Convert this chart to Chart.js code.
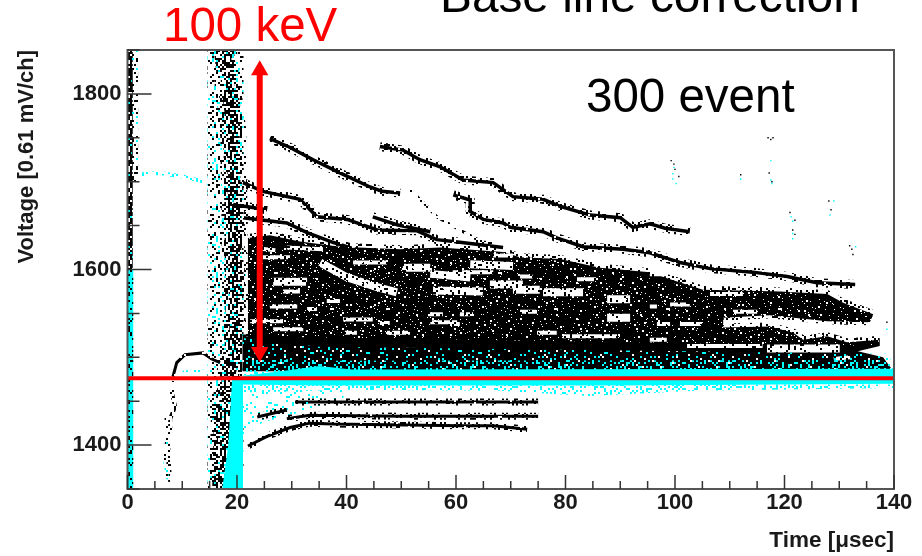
<!DOCTYPE html>
<html>
<head>
<meta charset="utf-8">
<style>
  html, body { margin: 0; padding: 0; background: #fff; }
  canvas { display: block; }
</style>
<script src="https://cdn.jsdelivr.net/npm/chart.js@4/dist/chart.umd.js"></script>
</head>
<body>
<canvas id="chart" width="922" height="556"></canvas>
<script>
var xTickLabels = [0, 20, 40, 60, 80, 100, 120, 140];
var yTickLabels = [1400, 1600, 1800];

// decay tracks, [time, voltage]
var trackA = [[26,1749],[29.7,1739],[33.9,1725],[38.8,1710],[44.3,1694],[46.5,1689],[49.8,1687]];
var trackB = [[46.1,1740],[50.3,1736],[53.4,1725],[57.1,1717],[61.3,1702],[66.8,1699],[70.4,1683],[75.9,1680],[79,1672],[84.5,1662],[90,1659],[92.3,1648],[95.4,1652],[98.2,1647],[102.7,1643]];
var trackC = [[51.6,1691],[54.7,1672],[56.5,1660],[60.7,1645],[64,1634],[68,1622]];
var trackD = [[59.5,1685],[62.6,1679],[62.6,1666],[65,1657],[68.6,1653],[69.9,1648],[75.9,1643],[78.4,1636],[83.2,1626],[90.5,1623],[95.4,1619],[97.8,1614],[100.9,1608],[106.4,1601],[114.2,1597],[120.5,1592],[125.9,1585],[132.9,1583]];
var trackE = [[21.1,1699],[24.7,1689],[31.5,1680],[34.6,1660],[40.1,1657],[45.6,1645],[52.9,1644],[56.5,1634],[60.7,1631],[68.6,1625]];
var trackF = [[44.8,1660],[49.2,1651],[55.3,1643]];
var trackG = [[19.3,1674],[25.5,1668]];
var trackH = [[21.1,1659],[29.1,1653],[32.8,1642],[37.5,1631],[43.7,1619],[49.8,1608],[55.8,1603]];
var upperTracks = [trackA, trackB, trackD, trackE, trackF, trackG, trackH];

// the tracks below the base line
var lowerTrack1 = [[30.6,1449],[50,1449],[75,1449]];
var lowerTrack2 = [[23.7,1432],[29.1,1440]];
var lowerTrack3 = [[29.1,1430],[33.3,1434],[50,1433],[75,1433]];
var lowerTrack4 = [[22,1399],[25.5,1410],[29.7,1420],[33.3,1425],[37.5,1424],[60.7,1422],[66.8,1422],[73,1418]];
var lowerTracks = [lowerTrack1, lowerTrack2, lowerTrack3, lowerTrack4];

// early pulses left of the big band
var bumpBlack = [[8.3,1478],[9,1494],[10.5,1503],[13.8,1505],[15.4,1498],[16.9,1494]];
var bumpCyan = [[10.1,1483],[11.8,1484],[13.8,1484],[15.1,1481]];
var upperCyan = [[1.9,1708],[5.9,1710],[10.1,1706],[14.7,1699]];
var fallBlack = [[8.3,1473],[8.1,1460],[8.7,1444],[7.8,1430],[7.8,1415],[7.4,1392],[7.8,1358]];
var fallMixed = [[7,1435],[7.2,1410],[6.8,1381],[7.4,1361]];

// outline of the dense black mass
var massOutline = [[22,1636],[26,1639],[31.5,1632],[38.8,1626],[49.8,1623],[57.1,1625],[68.6,1620],[71.7,1614],[79,1612],[86.3,1602],[95.4,1597],[99.1,1589],[105.1,1577],[119.2,1575],[127.8,1572],[130.7,1562],[136.2,1549],[135.6,1540],[127.8,1541],[117.3,1548],[108.8,1545],[108.8,1534],[117.3,1535],[121.6,1528],[123.4,1520],[127.8,1524],[131.4,1517],[137.4,1520],[137.4,1513],[133.4,1507],[138,1500],[139.3,1489],[140,1484],[21,1484],[21,1526],[22,1526]];
var massTopEdge = [[22,1636],[26,1639],[31.5,1632],[38.8,1626],[49.8,1623],[57.1,1625],[68.6,1620],[71.7,1614],[79,1612],[86.3,1602],[95.4,1597],[99.1,1589],[105.1,1577],[119.2,1575],[127.8,1572],[130.7,1562],[136.2,1549]];
var massLowerEdge = [[108.8,1534],[117.3,1535],[121.6,1528],[123.4,1520],[127.8,1524],[131.4,1517],[137.4,1520]];
var massNotchEdge = [[135.6,1540],[127.8,1541],[117.3,1548],[108.8,1545]];
var massFleckZone = [[22,1636],[38.8,1626],[68.6,1620],[86.3,1602],[105.1,1577],[127.8,1572],[136.2,1549],[137.4,1513],[21,1524]];
var baseFringe = [[21,1522],[35,1512],[139,1504],[140,1486],[21,1480]];
var baseFringeTight = [[21,1500],[35,1496],[139,1497],[140,1486],[21,1480]];

// empty stripes inside the mass
var gapsWide = [
  [[26.6,1586],[32.8,1586]],
  [[35.2,1608],[40.1,1591],[45.6,1580],[49.2,1574]],
  [[55.8,1576],[64.9,1575]],
  [[75.9,1574],[83.2,1574]],
  [[70.4,1577],[75.3,1577]],
  [[87.6,1566],[91.8,1566]],
  [[87.6,1545],[91.8,1545]],
  [[50.3,1602],[55.3,1602]],
  [[55.3,1595],[62.6,1591]],
  [[66.2,1583],[72.2,1583]],
  [[95.4,1597],[100.9,1597]],
  [[116.8,1510],[130.1,1510]],
  [[62.6,1606],[70.4,1604]]
];
var gapsThin = [
  [[26,1558],[31,1558]], [[28.4,1575],[31.5,1575]], [[22.4,1541],[28.4,1541]], [[26.6,1532],[32.1,1532]],
  [[36.4,1564],[38.8,1564]], [[32.8,1555],[34.6,1555]], [[39.4,1543],[44.8,1543]], [[46.1,1539],[47.9,1539]],
  [[39.7,1528],[41.9,1528]], [[47.4,1528],[51.6,1528]], [[55.3,1540],[60.2,1540]], [[54.9,1549],[57.6,1549]],
  [[41.2,1608],[47.4,1608]], [[24.7,1614],[29.7,1614]], [[60.7,1549],[63.1,1549]], [[71.7,1552],[74.8,1552]],
  [[58.9,1538],[60.7,1538]], [[74.8,1528],[78.4,1528]], [[79.5,1524],[89.4,1524]], [[95.4,1520],[98.5,1520]],
  [[96.7,1538],[99.1,1538]], [[95.4,1558],[96.7,1558]], [[82.1,1589],[85.8,1589]], [[106.4,1572],[112.4,1572]],
  [[110.6,1552],[115,1552]], [[100.9,1538],[104.6,1538]], [[99.1,1560],[102.7,1560]], [[102.2,1513],[116,1513]],
  [[129,1498],[132,1500]], [[29.1,1625],[35.7,1623]], [[66.8,1616],[70.4,1616]], [[59.4,1597],[66.8,1597]],
  [[71.7,1592],[74,1592]], [[24,1624],[27,1622]]
];

// cyan (no correction) base line band
var cyanBand = [[21,1479],[28,1484],[35,1490],[41,1486],[140,1487],[140,1470],[90,1468],[35,1468],[21,1469]];
var cyanSpray = [[21,1469],[140,1469],[140,1465],[104,1462],[84,1456],[68,1462],[40,1463],[21,1460]];
var cyanSpraySparse = [[21,1460],[40,1463],[39,1448],[31.5,1437],[24.7,1426],[21,1407]];
var cyanColumn = [[19.1,1475],[21.1,1475],[21.1,1350],[17.3,1350],[18.4,1400]];

// big vertical band around the trigger
var bandCentre = [[17.9,1850],[17.9,1350]];
var bandCore = [[17.6,1850],[18.4,1805],[19.3,1759],[19.5,1680],[19.6,1600],[19.8,1520],[18.4,1475],[17.6,1430],[17.3,1350]];
var stripUpper = [[0.5,1850],[0.5,1600]];
var stripLower = [[0.5,1600],[0.5,1350]];
var stripSpray = [[1.3,1850],[1.3,1700]];

// stray points in the upper right
var strayBlack = [[99.3,1724],[99.8,1720],[100,1714],[100.7,1706],[112,1708],[117,1750],[117.9,1750],[117.5,1748],[117.2,1710],[117.7,1700],[121,1665],[121.9,1656],[121.5,1645],[121.9,1640],[128.1,1678],[128.5,1668],[131.9,1627],[132.3,1623],[132.5,1617],[138.7,1540]];
var strayCyan = [[99.8,1716],[99.6,1709],[99.6,1703],[100.2,1698],[112,1703],[117.5,1724],[117.5,1702],[117.7,1698],[121.2,1660],[121.5,1655],[121.5,1641],[121.5,1635],[129,1678],[128.3,1662],[133,1626],[138.7,1532]];

// hand annotations
var baseLine = [[0,1476],[140,1476]];
var arrowShaft = [[24.15,1823],[24.15,1510]];
var arrowTop = [[24.15,1827]];
var arrowBottom = [[24.15,1506]];

var speckleTile = [
  "x..o...x.z..x...o..x...z.x..",
  ".x....o....x..o.x.....x....o",
  "...z.x..o.....x....o.x..x...",
  "o.x.....x..o.z...x.....o...x",
  "....x.o....x.....x.o..x..z..",
  ".z.....x.o...x.o.....x...x.o",
  "x..o.x.....z....x..o.....x..",
  "...x....x.o..x.....x.z.o....",
  ".o...z.x.....o.x.o.....x..x.",
  "x....x...o.x.....z..x.o.....",
  "..x.o....x....o.x.....x.o.z.",
  ".....x.z...o.x.....o.x....x.",
  "o.x.....x.....x.o.x.....o...",
  "..z.x.o...x.o.....z..x....x.",
  "x.....x.....x..o.x....o.x...",
  "..o.x...z.o....x...x.....o.x",
  ".x.....o.x...x.....o.z.x....",
  "...x.o.....x..z.x.....x..o.."
];
// second tile with another period, breaks up the lattice of the first one
var shiftTile = [
  "#..#.##...#..#.#..##..#",
  ".##...#.#...##...#...#.",
  "#...##...#.#...##..#..#",
  "..#...#.##...#...#.##..",
  ".#.##...#..##.#.....#.#",
  "#.....#...#....##.#....",
  "..##.#..#...#.#....#.##",
  "#...#..##.#.....#.#....",
  ".#.....#...##.#...##.#.",
  "...##.#..#....#.#....#.",
  "#.#...#.....##...#.#..#",
  ".#..#...##.#...#....##.",
  "..#..##....#..#.##.#..."
];

function speckle(colors, cell, offset) {
  var w = speckleTile[0].length, h = speckleTile.length;
  var sw = shiftTile[0].length, sh = shiftTile.length;
  var off = offset || 0;
  var tile = document.createElement("canvas");
  tile.width = w * sw * cell;
  tile.height = h * sh * cell;
  var c = tile.getContext("2d");
  for (var j = 0; j < h * sh; j++) {
    for (var i = 0; i < w * sw; i++) {
      var shifted = shiftTile[j % sh][i % sw] === "#";
      var ch = shifted ? speckleTile[(j + 5 + off) % h][(i + 11) % w] : speckleTile[(j + off) % h][(i + off) % w];
      if (colors[ch]) {
        c.fillStyle = colors[ch];
        c.fillRect(i * cell, j * cell, cell, cell);
      }
    }
  }
  return c.createPattern(tile, "repeat");
}

var BLACK = "#000000", CYAN = "#00ffff", WHITE = "#ffffff", RED = "#ff0000";
var sprayMixed = speckle({x: BLACK, o: CYAN}, 2);
var sprayDark = speckle({x: BLACK, z: CYAN}, 2, 9);
var sprayBlack = speckle({x: BLACK, o: BLACK}, 2);
var sprayBlack2 = speckle({x: BLACK, o: BLACK}, 2, 4);
var sprayBlack3 = speckle({x: BLACK, o: BLACK}, 2, 13);
var sprayCyan = speckle({x: CYAN, o: CYAN, z: CYAN}, 2);
var sprayCyanThin = speckle({o: CYAN, z: CYAN}, 2);
var roughBlack = speckle({".": BLACK, o: BLACK}, 2);
var coarseBlack = speckle({".": BLACK, z: CYAN}, 2);
var roughWhite = speckle({".": WHITE, o: WHITE, z: WHITE}, 2);
var flecks = speckle({z: WHITE}, 2);
var flecksFine = speckle({z: WHITE}, 1);
var fringeSparse = speckle({o: CYAN, z: WHITE}, 2);
var fringeTight = speckle({x: CYAN, o: CYAN, z: WHITE}, 2);
var stripeBlack = speckle({x: BLACK, o: BLACK, z: BLACK}, 2);

function pts(list) {
  return list.map(function(p) { return {x: p[0], y: p[1]}; });
}

function stroke(list, width, color, dash) {
  return {data: pts(list), showLine: true, fill: false, pointRadius: 0, tension: 0,
    borderWidth: width, borderColor: color, borderDash: dash || [], borderCapStyle: "butt"};
}

function area(list, color) {
  return {data: pts(list), showLine: true, fill: "shape", pointRadius: 0, tension: 0,
    borderWidth: 0, borderColor: "rgba(0,0,0,0)", backgroundColor: color};
}

function dots(list, color, radius, style, rotation) {
  return {data: pts(list), showLine: false, pointRadius: radius, pointStyle: style || "rect",
    pointRotation: rotation || 0, pointBorderWidth: 0, borderWidth: 0, backgroundColor: color, pointBackgroundColor: color};
}

// first layer ends up at the bottom
var layers = [];
layers.push(stroke(bandCentre, 36, sprayMixed));
layers.push(stroke(bandCore, 26, sprayDark));
layers.push(stroke(bandCore, 20, sprayBlack2));
layers.push(stroke(bandCore, 13, sprayBlack3));
layers.push(area(cyanColumn, CYAN));
layers.push(stroke(stripUpper, 5, coarseBlack));
layers.push(stroke(stripLower, 6, CYAN));
layers.push(stroke(stripLower, 6, stripeBlack));
layers.push(stroke(stripSpray, 7, sprayDark));
layers.push(stroke(upperCyan, 4, sprayCyan));
layers.push(stroke(bumpCyan, 3, sprayCyan));
layers.push(stroke(bumpBlack, 3, roughBlack));
layers.push(stroke(fallBlack, 4, sprayBlack));
layers.push(stroke(fallMixed, 3, sprayMixed));
layers.push(stroke(trackC, 3, sprayBlack));
upperTracks.forEach(function(track) {
  layers.push(stroke(track, 9, sprayBlack));
  layers.push(stroke(track, 3.5, roughBlack));
});
layers.push(area(massOutline, BLACK));
layers.push(stroke(massTopEdge, 8, sprayBlack));
layers.push(stroke(massLowerEdge, 8, sprayBlack));
layers.push(stroke(massNotchEdge, 6, sprayBlack));
layers.push(area(massFleckZone, flecks));
layers.push(area(massFleckZone, flecksFine));
gapsWide.forEach(function(gap) { layers.push(stroke(gap, 8, roughWhite)); });
gapsThin.forEach(function(gap) { layers.push(stroke(gap, 4, roughWhite)); });
layers.push(area(baseFringe, fringeSparse));
layers.push(area(baseFringeTight, fringeTight));
layers.push(area(cyanSpray, sprayCyan));
layers.push(area(cyanSpraySparse, sprayCyanThin));
lowerTracks.forEach(function(track) {
  layers.push(stroke(track, 7, sprayBlack));
  layers.push(stroke(track, 3, roughBlack));
});
layers.push(area(cyanBand, CYAN));
layers.push(dots(strayBlack, BLACK, 1));
layers.push(dots(strayCyan, CYAN, 1));
layers.push(stroke(baseLine, 4, RED));
layers.push(stroke(arrowShaft, 6, RED));
layers.push(dots(arrowTop, RED, 10, "triangle"));
layers.push(dots(arrowBottom, RED, 10, "triangle", 180));
layers.forEach(function(d, i) { d.order = layers.length - i; });

var frameAndNotes = {
  id: "frameAndNotes",
  afterDatasetsDraw: function(chart) {
    var ctx = chart.ctx, a = chart.chartArea, xs = chart.scales.x, ys = chart.scales.y;
    ctx.save();
    ctx.strokeStyle = "#555555";
    ctx.lineWidth = 2;
    ctx.strokeRect(a.left, a.top, a.right - a.left, a.bottom - a.top);
    ctx.strokeStyle = "#333333";
    ctx.lineWidth = 1.5;
    ctx.beginPath();
    xs.ticks.forEach(function(t) {
      var px = xs.getPixelForValue(t.value);
      var len = xTickLabels.indexOf(t.value) >= 0 ? 14 : 8;
      ctx.moveTo(px, a.bottom);
      ctx.lineTo(px, a.bottom - len);
    });
    ys.ticks.forEach(function(t) {
      var py = ys.getPixelForValue(t.value);
      var len = yTickLabels.indexOf(t.value) >= 0 ? 24 : 12;
      ctx.moveTo(a.left, py);
      ctx.lineTo(a.left + len, py);
    });
    ctx.stroke();
    ctx.textAlign = "left";
    ctx.textBaseline = "alphabetic";
    ctx.font = "47.5px 'Liberation Sans'";
    ctx.fillStyle = RED;
    ctx.fillText("100 keV", 163, 41);
    ctx.fillStyle = BLACK;
    ctx.fillText("300 event", 586, 112);
    ctx.font = "47.8px 'Liberation Sans'";
    ctx.fillText("Base line correction", 440, 12);
    ctx.restore();
  }
};

new Chart(document.getElementById("chart"), {
  type: "scatter",
  data: {datasets: layers},
  plugins: [frameAndNotes],
  options: {
    responsive: false,
    animation: false,
    layout: {padding: {top: 50, right: 28, bottom: 0, left: 0}},
    plugins: {legend: {display: false}, tooltip: {enabled: false}},
    scales: {
      x: {
        type: "linear", min: 0, max: 140,
        afterFit: function(scale) { scale.height = 67; },
        grid: {display: false, drawTicks: false},
        border: {display: false},
        ticks: {
          stepSize: 5, autoSkip: false, maxRotation: 0, padding: 1, color: "#1a1a1a",
          font: {family: "'Liberation Sans'", weight: "bold", size: 22},
          callback: function(v) { return xTickLabels.indexOf(v) >= 0 ? String(v) : ""; }
        },
        title: {
          display: true, text: "Time [\u03bcsec]", align: "end", color: "#1a1a1a",
          padding: {top: 0, bottom: 2},
          font: {family: "'Liberation Sans'", weight: "bold", size: 22.5}
        }
      },
      y: {
        type: "linear", min: 1350, max: 1850,
        afterFit: function(scale) { scale.width = 127.5; },
        grid: {display: false, drawTicks: false},
        border: {display: false},
        ticks: {
          stepSize: 50, autoSkip: false, padding: 6, color: "#1a1a1a",
          font: {family: "'Liberation Sans'", weight: "bold", size: 22},
          callback: function(v) { return yTickLabels.indexOf(v) >= 0 ? String(v) : ""; }
        },
        title: {
          display: true, text: "Voltage [0.61 mV/ch]", align: "end", color: "#1a1a1a",
          padding: {top: 14, bottom: 0},
          font: {family: "'Liberation Sans'", weight: "bold", size: 22}
        }
      }
    }
  }
});
</script>
</body>
</html>
